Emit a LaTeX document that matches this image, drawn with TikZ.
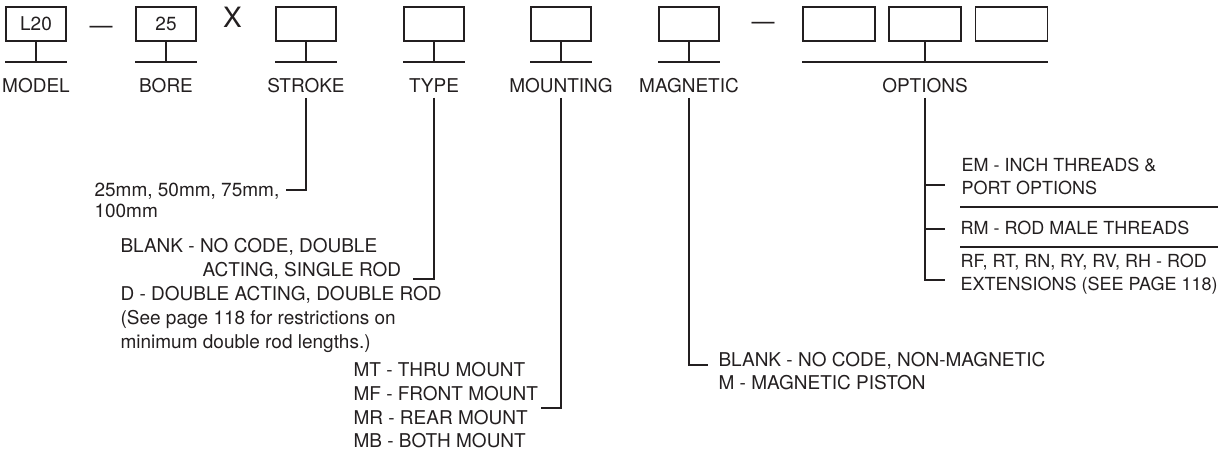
\documentclass[tikz,border=0pt]{standalone}
\usepackage{fontspec}
\setmainfont{TeX Gyre Heros}
\usetikzlibrary{positioning,calc}
\definecolor{SpecInk}{HTML}{231F20}

\begin{document}
\begin{tikzpicture}[x=0.5pt,y=-0.5pt,line width=0.55pt,draw=SpecInk,
    every node/.style={font=\fontsize{9.5}{11.9}\selectfont,text=SpecInk}]
    \tikzset{codebox/.style={draw=SpecInk,minimum width=30pt,minimum height=17pt,inner sep=0pt,
        font=\fontsize{9.5}{10}\selectfont},
      optbox/.style={codebox,minimum width=36pt},
      field/.style={anchor=base,inner sep=2pt},
      joiner/.style={anchor=base,font=\fontsize{11.5}{12}\selectfont},
      desc/.style={anchor=base west,align=left,inner sep=0pt}}
    \useasboundingbox (0,0) rectangle (1225,453);
    % code boxes
    \node[codebox] (model) at (36,24) {L20};
    \node[codebox] (bore) at (166,24) {25};
    \node[codebox] (stroke) at (306,24) {};
    \node[codebox] (type) at (434,24) {};
    \node[codebox] (mount) at (561,24) {};
    \node[codebox] (magnet) at (689,24) {};
    \node[optbox] (opta) at (839,24) {};
    \node[optbox] (optb) at (925,24) {};
    \node[optbox] (optc) at (1011.5,24) {};
    \node[joiner] (dasha) at (101,34) {—};
    \node[anchor=base,font=\fontsize{14}{16}\selectfont] (times) at (232.5,28) {X};
    \node[joiner] (dashb) at (763,30) {—};
    % bars and field names
    \foreach \b in {model,bore,stroke,type,mount,magnet}{
      \coordinate (\b-t) at (\b.south |- 0,62);
      \draw (\b.south west |- \b-t) -- (\b.south east |- \b-t);
      \draw (\b) -- (\b-t);}
    \coordinate (optb-t) at (optb.south |- 0,62);
    \draw (opta.south west |- optb-t) -- (optc.south east |- optb-t);
    \draw (optb) -- (optb-t);
    \node[field] (lmodel) at (36,93) {MODEL};
    \node[field] (lbore) at (166,93) {BORE};
    \node[field] (lstroke) at (306,93) {STROKE};
    \node[field] (ltype) at (434,93) {TYPE};
    \node[field] (lmount) at (561,93) {MOUNTING};
    \node[field] (lmagnet) at (689,93) {MAGNETIC};
    \node[field] (loptb) at (925,93) {OPTIONS};
    % choices (placed at the baseline of their last line)
    \node[desc,font=\fontsize{9.5}{10.6}\selectfont] (dstroke) at (94,218) {25mm, 50mm, 75mm,\\100mm};
    \node[desc,font=\fontsize{9.5}{12}\selectfont] (dtype) at (120,349) {BLANK - NO CODE, DOUBLE\\
      \hspace*{41pt}ACTING, SINGLE ROD\\D - DOUBLE ACTING, DOUBLE ROD\\
      (See page 118 for restrictions on\\minimum double rod lengths.)};
    \node[desc,font=\fontsize{9.5}{11.85}\selectfont] (dmount) at (353,448) {MT - THRU MOUNT\\MF - FRONT MOUNT\\MR - REAR MOUNT\\MB - BOTH MOUNT};
    \node[desc,font=\fontsize{9.5}{11.5}\selectfont] (dmagnet) at (718,390) {BLANK - NO CODE, NON-MAGNETIC\\M - MAGNETIC PISTON};
    \node[desc,font=\fontsize{9}{11.5}\selectfont] (dem) at (961,195) {EM - INCH THREADS \&\\PORT OPTIONS};
    \node[desc,font=\fontsize{9}{11.5}\selectfont] (drm) at (960,235) {RM - ROD MALE THREADS};
    \node[desc,font=\fontsize{9}{11.5}\selectfont] (dext) at (960,291) {RF, RT, RN, RY, RV, RH - ROD\\EXTENSIONS (SEE PAGE 118)};
    \coordinate (estroke) at (286,190);
    \coordinate (etype) at (413,279);
    \coordinate (emount) at (541,408);
    \coordinate (emagnet) at (708,365);
    \coordinate (eem) at (945,185);
    \coordinate (erm) at (945,229);
    \coordinate (eext) at (945,280);
    \foreach \l/\e in {lstroke/estroke,ltype/etype,lmount/emount,lmagnet/emagnet,loptb/eext}{
      \draw (\l.south) |- (\e);}
    \draw (eem -| loptb) -- (eem);
    \draw (erm -| loptb) -- (erm);
    \draw (960,207) -- (1218,207);
    \draw (960,247) -- (1218,247);
\end{tikzpicture}
\end{document}
